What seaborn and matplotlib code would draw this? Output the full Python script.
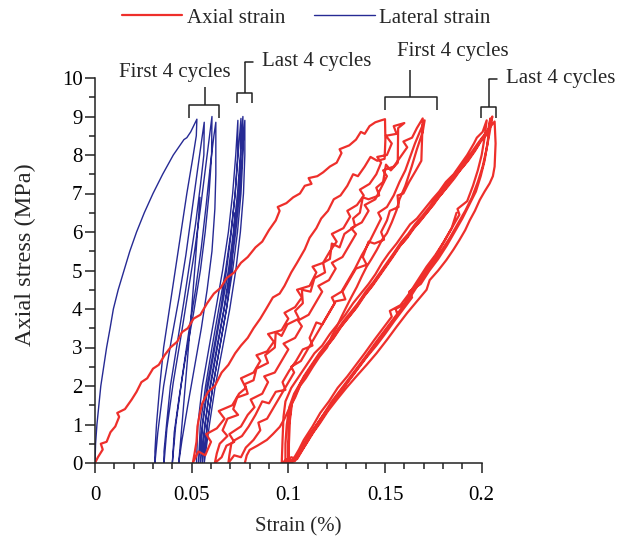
import numpy as np
import pandas as pd
import matplotlib
matplotlib.use("Agg")
import matplotlib.pyplot as plt
import seaborn as sns
from matplotlib.lines import Line2D
from matplotlib.ticker import FixedLocator

# ---------------------------------------------------------------- data
# Axial strain (%), stress (MPa)
AX_LOAD0 = [(0, 0), (0.0015, 0.15), (0.004, 0.35), (0.003, 0.5), (0.006, 0.55), (0.008, 0.8), (0.0105, 0.95),
            (0.0125, 1.2), (0.0115, 1.3), (0.0155, 1.4), (0.019, 1.65), (0.0215, 1.85), (0.024, 2.1), (0.027, 2.2),
            (0.030, 2.45), (0.033, 2.55), (0.036, 2.8), (0.039, 3.0), (0.0425, 3.15), (0.045, 3.4), (0.048, 3.5),
            (0.051, 3.75), (0.0545, 3.85), (0.058, 4.15), (0.0615, 4.4), (0.065, 4.55), (0.068, 4.8), (0.072, 4.95),
            (0.0755, 5.2), (0.079, 5.35), (0.083, 5.6), (0.0865, 5.75), (0.090, 6.05), (0.0935, 6.3), (0.0955, 6.55),
            (0.0945, 6.65), (0.099, 6.75), (0.1025, 6.9), (0.106, 7.0), (0.1085, 7.2), (0.112, 7.25), (0.1105, 7.4),
            (0.115, 7.45), (0.118, 7.55), (0.1215, 7.7), (0.125, 7.8), (0.1275, 8.05), (0.1265, 8.15), (0.1315, 8.25),
            (0.135, 8.4), (0.1375, 8.6), (0.1395, 8.55), (0.142, 8.75), (0.145, 8.85), (0.148, 8.9), (0.150, 8.93)]
AX_G1_U1 = [(0.150, 8.93), (0.1502, 8.4), (0.1498, 7.9), (0.146, 7.85), (0.1425, 7.95), (0.1395, 7.7), (0.136, 7.45),
            (0.1335, 7.5), (0.1305, 7.2), (0.127, 6.95), (0.1235, 6.85), (0.1205, 6.55), (0.117, 6.35), (0.1145, 6.1),
            (0.111, 5.85), (0.1085, 5.55), (0.1045, 5.2), (0.1015, 4.95), (0.098, 4.6), (0.0955, 4.4), (0.092, 4.3),
            (0.0885, 4.0), (0.0855, 3.75), (0.082, 3.5), (0.079, 3.25), (0.0755, 3.05), (0.0725, 2.85), (0.069, 2.55),
            (0.0655, 2.35), (0.062, 2.0), (0.0585, 1.85), (0.0555, 1.55), (0.0545, 1.35), (0.053, 0.95),
            (0.0525, 0.55), (0.0515, 0.25), (0.0506, 0)]
AX_G1_R1 = [(0.0506, 0), (0.0535, 0.3), (0.057, 0.2), (0.060, 0.55), (0.0575, 0.75), (0.063, 0.9), (0.067, 1.15),
            (0.064, 1.35), (0.071, 1.5), (0.0745, 1.8), (0.078, 1.95), (0.0755, 2.2), (0.082, 2.35), (0.0855, 2.65),
            (0.0835, 2.8), (0.089, 2.9), (0.0925, 3.15), (0.0895, 3.35), (0.0965, 3.45), (0.100, 3.75), (0.098, 3.9),
            (0.1035, 4.05), (0.107, 4.3), (0.1045, 4.5), (0.111, 4.6), (0.1145, 4.95), (0.1125, 5.1), (0.118, 5.2),
            (0.1215, 5.5), (0.125, 5.75), (0.1225, 5.95), (0.1285, 6.1), (0.132, 6.4), (0.1305, 6.55), (0.1355, 6.7),
            (0.139, 6.95), (0.137, 7.1), (0.142, 7.25), (0.1455, 7.5), (0.148, 7.8), (0.146, 7.95), (0.151, 8.0),
            (0.1535, 8.3), (0.1505, 8.5), (0.156, 8.55), (0.1545, 8.75), (0.160, 8.83)]
AX_G1_U2 = [(0.160, 8.83), (0.1568, 8.7), (0.1566, 7.8), (0.153, 7.6), (0.1505, 7.75), (0.149, 7.3), (0.1455, 7.15),
            (0.147, 6.95), (0.1415, 6.85), (0.1385, 6.9), (0.137, 6.5), (0.1335, 6.35), (0.1345, 6.15), (0.129, 5.95),
            (0.1265, 5.6), (0.1225, 5.7), (0.1215, 5.3), (0.118, 5.2), (0.119, 4.95), (0.1135, 4.8), (0.1115, 4.45),
            (0.107, 4.5), (0.1075, 4.15), (0.1035, 3.95), (0.1055, 3.75), (0.0995, 3.6), (0.0965, 3.3), (0.0935, 3.4),
            (0.093, 3.0), (0.088, 2.8), (0.0895, 2.6), (0.0835, 2.45), (0.082, 2.15), (0.0775, 2.05), (0.079, 1.8),
            (0.0735, 1.7), (0.0715, 1.4), (0.074, 1.25), (0.0685, 1.15), (0.066, 0.85), (0.0685, 0.7), (0.0645, 0.5),
            (0.063, 0.25), (0.062, 0)]
AX_G1_R2 = [(0.062, 0), (0.0655, 0.15), (0.068, 0.45), (0.072, 0.55), (0.0695, 0.75), (0.0755, 0.95), (0.079, 1.25),
            (0.0825, 1.45), (0.0805, 1.65), (0.0865, 1.8), (0.0895, 2.1), (0.0875, 2.25), (0.093, 2.35), (0.0965, 2.65),
            (0.100, 2.95), (0.0975, 3.1), (0.1035, 3.25), (0.107, 3.55), (0.105, 3.7), (0.1105, 3.85), (0.114, 4.15),
            (0.1175, 4.45), (0.1155, 4.6), (0.121, 4.75), (0.1245, 5.05), (0.1225, 5.2), (0.128, 5.35), (0.1315, 5.65),
            (0.135, 5.95), (0.1325, 6.1), (0.138, 6.25), (0.1415, 6.55), (0.1395, 6.7), (0.145, 6.85), (0.148, 7.15),
            (0.151, 7.45), (0.149, 7.6), (0.1545, 7.7), (0.158, 7.95), (0.1615, 8.2), (0.1595, 8.35), (0.164, 8.45),
            (0.1665, 8.7), (0.1695, 8.95)]
AX_G1_U3 = [(0.1695, 8.95), (0.1688, 7.85), (0.166, 7.6), (0.1625, 7.3), (0.1595, 7.0), (0.1565, 6.95), (0.157, 6.65),
            (0.1525, 6.55), (0.151, 6.3), (0.148, 6.0), (0.1495, 5.8), (0.1445, 5.7), (0.1415, 5.75), (0.1385, 5.35),
            (0.1405, 5.15), (0.135, 5.05), (0.1315, 4.75), (0.128, 4.45), (0.1295, 4.25), (0.1245, 4.2), (0.121, 3.9),
            (0.1175, 3.6), (0.1145, 3.65), (0.111, 3.25), (0.1125, 3.05), (0.1075, 2.95), (0.104, 2.65),
            (0.1005, 2.4), (0.097, 2.1), (0.0985, 1.9), (0.0935, 1.85), (0.09, 1.55), (0.0865, 1.6), (0.083, 1.25),
            (0.0795, 0.95), (0.076, 0.7), (0.0725, 0.6), (0.0705, 0.5), (0.0695, 0.2), (0.069, 0)]
AX_G1_R3 = [(0.069, 0), (0.072, 0.2), (0.0755, 0.15), (0.078, 0.4), (0.082, 0.6), (0.0855, 0.85), (0.0845, 1.05),
            (0.089, 1.15), (0.0925, 1.45), (0.096, 1.75), (0.0995, 2.05), (0.103, 2.35), (0.1015, 2.5), (0.1065, 2.65),
            (0.110, 2.95), (0.1135, 3.25), (0.117, 3.55), (0.1205, 3.85), (0.124, 4.15), (0.1225, 4.3), (0.1275, 4.45),
            (0.131, 4.75), (0.1345, 5.05), (0.138, 5.4), (0.1415, 5.7), (0.1445, 6.0), (0.148, 6.35), (0.1465, 6.5),
            (0.151, 6.65), (0.1545, 6.95), (0.1575, 7.3), (0.1605, 7.6), (0.163, 7.95), (0.1655, 8.3), (0.168, 8.6),
            (0.1705, 8.9)]
AX_G1_U4 = [(0.1705, 8.9), (0.1695, 8.6), (0.1665, 8.15), (0.1638, 7.7), (0.1605, 7.2), (0.1575, 6.85), (0.156, 6.57),
            (0.1535, 6.25), (0.151, 5.97), (0.1485, 5.8), (0.1457, 5.53), (0.143, 5.3), (0.1405, 5.1), (0.138, 4.85),
            (0.1354, 4.57), (0.1325, 4.3), (0.130, 4.05), (0.1275, 3.8), (0.125, 3.53), (0.1225, 3.3), (0.12, 3.0),
            (0.116, 2.75), (0.1127, 2.5), (0.109, 2.2), (0.106, 2.0), (0.1035, 1.7), (0.1008, 1.45), (0.098, 1.15),
            (0.0956, 0.94), (0.092, 0.75), (0.0889, 0.6), (0.084, 0.45), (0.080, 0.34), (0.0785, 0.2), (0.0775, 0)]

AX_G2_R0 = [(0.0999, 0), (0.102, 0.05), (0.1055, 0.35), (0.108, 0.6), (0.1125, 0.95), (0.1165, 1.3), (0.121, 1.6),
            (0.1255, 1.95), (0.1305, 2.25), (0.135, 2.55), (0.1395, 2.85), (0.1445, 3.2), (0.149, 3.5), (0.1535, 3.8),
            (0.1525, 3.95), (0.158, 4.1), (0.1625, 4.4), (0.167, 4.75), (0.1715, 5.1), (0.176, 5.4), (0.1805, 5.75),
            (0.1845, 6.1), (0.1885, 6.45), (0.1875, 6.6), (0.1925, 6.8), (0.1955, 7.2), (0.198, 7.6), (0.200, 8.0),
            (0.2015, 8.45), (0.2026, 8.9)]
AX_G2_U1 = [(0.2026, 8.9), (0.2005, 8.6), (0.1975, 8.45), (0.196, 8.3), (0.1925, 8.0), (0.189, 7.75), (0.1855, 7.5),
            (0.1815, 7.3), (0.178, 7.05), (0.1745, 6.85), (0.1705, 6.6), (0.1665, 6.35), (0.163, 6.2), (0.1595, 5.95),
            (0.156, 5.7), (0.152, 5.45), (0.1485, 5.2), (0.145, 4.9), (0.1415, 4.65), (0.1375, 4.4), (0.1335, 4.15),
            (0.1295, 3.85), (0.1255, 3.6), (0.1215, 3.35), (0.1175, 3.05), (0.1135, 2.85), (0.1095, 2.55),
            (0.1055, 2.25), (0.1015, 1.95), (0.0985, 1.6), (0.0975, 1.2), (0.097, 0.6), (0.0966, 0)]
AX_G2_R1 = [(0.0966, 0), (0.0995, 0.1), (0.1025, 0.05), (0.106, 0.3), (0.1095, 0.6), (0.1135, 0.9), (0.1175, 1.2),
            (0.1225, 1.55), (0.127, 1.85), (0.1315, 2.15), (0.136, 2.45), (0.1405, 2.75), (0.1455, 3.05), (0.150, 3.35),
            (0.155, 3.7), (0.1595, 4.0), (0.164, 4.3), (0.1625, 4.45), (0.1685, 4.65), (0.173, 5.0), (0.1775, 5.3),
            (0.182, 5.65), (0.186, 6.0), (0.19, 6.35), (0.1935, 6.7), (0.197, 7.05), (0.1995, 7.45), (0.2015, 7.85),
            (0.203, 8.3), (0.2045, 8.95)]
AX_G2_U2 = [(0.2045, 8.95), (0.2030, 8.55), (0.1995, 8.35), (0.1965, 8.1), (0.193, 7.85), (0.1895, 7.65), (0.186, 7.4),
            (0.182, 7.15), (0.1785, 6.95), (0.175, 6.7), (0.1715, 6.5), (0.1675, 6.25), (0.164, 6.05), (0.1605, 5.8),
            (0.157, 5.6), (0.153, 5.3), (0.1495, 5.05), (0.146, 4.8), (0.1425, 4.55), (0.1385, 4.3), (0.1345, 4.0),
            (0.1305, 3.75), (0.1265, 3.5), (0.1225, 3.2), (0.1185, 2.95), (0.1145, 2.7), (0.1105, 2.4), (0.1065, 2.1),
            (0.103, 1.8), (0.1005, 1.45), (0.0992, 1.0), (0.0985, 0.5), (0.0985, 0)]
AX_G2_R2 = [(0.0985, 0), (0.1015, 0.15), (0.1045, 0.1), (0.108, 0.4), (0.1115, 0.7), (0.1155, 1.0), (0.12, 1.35),
            (0.1245, 1.7), (0.129, 2.0), (0.1335, 2.3), (0.138, 2.6), (0.1425, 2.9), (0.1475, 3.25), (0.152, 3.55),
            (0.1565, 3.85), (0.1555, 4.0), (0.161, 4.15), (0.1655, 4.5), (0.170, 4.85), (0.1745, 5.15), (0.179, 5.5),
            (0.1835, 5.85), (0.1875, 6.2), (0.1915, 6.55), (0.195, 6.9), (0.198, 7.3), (0.2005, 7.7), (0.2025, 8.15),
            (0.204, 8.55), (0.2055, 9.0)]
AX_G2_U3 = [(0.2055, 9.0), (0.2035, 8.6), (0.2005, 8.45), (0.1975, 8.2), (0.194, 7.95), (0.1905, 7.7), (0.187, 7.5),
            (0.183, 7.25), (0.1795, 7.0), (0.176, 6.8), (0.1725, 6.55), (0.1685, 6.3), (0.165, 6.1), (0.1615, 5.85),
            (0.158, 5.65), (0.154, 5.35), (0.1505, 5.1), (0.147, 4.85), (0.1435, 4.6), (0.1395, 4.35), (0.1355, 4.05),
            (0.1315, 3.8), (0.1275, 3.55), (0.1235, 3.25), (0.1195, 3.0), (0.1155, 2.75), (0.1115, 2.45),
            (0.1075, 2.15), (0.1045, 1.85), (0.1015, 1.5), (0.1003, 1.0), (0.0999, 0.5), (0.0999, 0)]
AX_G2_R3 = [(0.0999, 0), (0.1034, 0.05), (0.106, 0.25), (0.1094, 0.51), (0.113, 0.8), (0.1163, 1.03), (0.1205, 1.35),
            (0.125, 1.64), (0.13, 1.95), (0.135, 2.24), (0.1405, 2.55), (0.1456, 2.85), (0.151, 3.2), (0.156, 3.54),
            (0.1615, 3.9), (0.167, 4.23), (0.1715, 4.5), (0.1731, 4.75), (0.1775, 5.0), (0.1817, 5.27), (0.1855, 5.55),
            (0.1886, 5.8), (0.1915, 6.05), (0.1938, 6.3), (0.1965, 6.55), (0.199, 6.83), (0.2015, 7.05),
            (0.2041, 7.26), (0.2058, 7.45), (0.2067, 7.7), (0.2072, 8.3), (0.2067, 8.87)]
AX_G2_U4 = [(0.2067, 8.87), (0.2040, 8.7), (0.201, 8.5), (0.198, 8.3), (0.1945, 8.05), (0.191, 7.8), (0.1875, 7.6),
            (0.1835, 7.35), (0.18, 7.1), (0.1765, 6.9), (0.173, 6.65), (0.169, 6.4), (0.1655, 6.2), (0.162, 5.95),
            (0.1585, 5.75), (0.1545, 5.45), (0.151, 5.2), (0.1475, 4.95), (0.144, 4.7), (0.14, 4.45), (0.136, 4.15),
            (0.132, 3.9), (0.128, 3.65), (0.124, 3.35), (0.12, 3.1), (0.116, 2.85), (0.112, 2.55), (0.108, 2.25),
            (0.105, 1.95), (0.102, 1.6), (0.1008, 1.1), (0.1003, 0.5), (0.1003, 0)]
AX_G2_R4 = [(0.1003, 0), (0.103, 0.1), (0.1065, 0.35), (0.110, 0.65), (0.114, 0.95), (0.118, 1.25), (0.1225, 1.6),
            (0.127, 1.9), (0.1315, 2.2), (0.136, 2.5), (0.1405, 2.8), (0.1455, 3.15), (0.150, 3.45), (0.1545, 3.75),
            (0.159, 4.05), (0.1635, 4.4), (0.168, 4.75), (0.172, 5.05), (0.1765, 5.4), (0.1805, 5.75), (0.1845, 6.1),
            (0.187, 6.5)]

# Lateral strain (%), stress (MPa)
LAT_LOAD0 = [(0, 0), (0.0003, 0.5), (0.001, 1.0), (0.002, 1.5), (0.003, 2.0), (0.0045, 2.5), (0.006, 3.0),
             (0.0078, 3.5), (0.0095, 4.0), (0.012, 4.5), (0.015, 5.0), (0.018, 5.5), (0.0215, 6.0), (0.0255, 6.5),
             (0.030, 7.0), (0.035, 7.5), (0.0405, 8.0), (0.046, 8.4), (0.0475, 8.45), (0.0495, 8.6), (0.0527, 8.93)]
LAT_G1_U1 = [(0.0527, 8.93), (0.0524, 8.5), (0.0505, 7.9), (0.0475, 7.0), (0.0445, 6.0), (0.0415, 5.0),
             (0.0385, 4.0), (0.0355, 3.0), (0.0335, 2.0), (0.0318, 1.0), (0.031, 0.3), (0.031, 0)]
LAT_G1_R1 = [(0.031, 0), (0.0325, 0.8), (0.0355, 2.0), (0.0395, 3.2), (0.0435, 4.3), (0.047, 5.4), (0.050, 6.5),
             (0.053, 7.6), (0.0555, 8.5), (0.0565, 8.85)]
LAT_G1_U2 = [(0.0565, 8.85), (0.0563, 8.0), (0.0545, 7.2), (0.052, 6.2), (0.049, 5.2), (0.046, 4.2), (0.0425, 3.1),
             (0.039, 2.0), (0.037, 1.0), (0.0357, 0.3), (0.0357, 0)]
LAT_G1_R2 = [(0.0357, 0), (0.0372, 0.9), (0.0405, 2.1), (0.0445, 3.3), (0.048, 4.4), (0.0515, 5.5), (0.0545, 6.6),
             (0.057, 7.6), (0.0595, 8.6), (0.0605, 9.0)]
LAT_G1_U3 = [(0.0605, 9.0), (0.0603, 8.0), (0.059, 7.0), (0.057, 6.0), (0.0545, 5.0), (0.051, 3.9), (0.047, 2.8),
             (0.0435, 1.7), (0.041, 0.8), (0.040, 0)]
LAT_G1_R3 = [(0.040, 0), (0.0418, 1.0), (0.045, 2.2), (0.0485, 3.4), (0.052, 4.5), (0.055, 5.6), (0.0575, 6.7),
             (0.0598, 7.8), (0.0615, 8.5), (0.0625, 8.85)]
LAT_G1_U4 = [(0.0625, 8.85), (0.0625, 7.5), (0.062, 6.6), (0.0605, 5.5), (0.058, 4.5), (0.055, 3.5), (0.0515, 2.5),
             (0.048, 1.5), (0.045, 0.6), (0.0433, 0)]
LAT_G1_R4 = [(0.0433, 0), (0.045, 1.0), (0.0475, 2.5), (0.050, 4.0), (0.052, 5.3), (0.0543, 6.9)]

LAT_G2_R0 = [(0.0525, 0), (0.0532, 1.0), (0.0555, 2.0), (0.059, 3.0), (0.0625, 4.0), (0.066, 5.0), (0.069, 6.0),
             (0.0712, 7.0), (0.0728, 8.0), (0.0739, 8.9)]
LAT_G2_U1 = [(0.0739, 8.9), (0.0738, 8.0), (0.0725, 7.0), (0.0705, 6.0), (0.068, 5.0), (0.065, 4.0), (0.0615, 3.0),
             (0.058, 2.0), (0.0555, 1.0), (0.0535, 0)]
LAT_G2_R1 = [(0.0535, 0), (0.0545, 1.0), (0.0572, 2.0), (0.0605, 3.0), (0.064, 4.0), (0.0675, 5.0), (0.0703, 6.0),
             (0.0725, 7.0), (0.074, 8.0), (0.0755, 8.95)]
LAT_G2_U2 = [(0.0755, 8.95), (0.0754, 8.0), (0.0742, 7.0), (0.0722, 6.0), (0.0697, 5.0), (0.0667, 4.0), (0.063, 3.0),
             (0.0595, 2.0), (0.057, 1.0), (0.0545, 0)]
LAT_G2_R2 = [(0.0545, 0), (0.0557, 1.0), (0.0585, 2.0), (0.062, 3.0), (0.0655, 4.0), (0.069, 5.0), (0.0716, 6.0),
             (0.0737, 7.0), (0.0752, 8.0), (0.0765, 9.0)]
LAT_G2_U3 = [(0.0765, 9.0), (0.0765, 8.0), (0.0755, 7.0), (0.0737, 6.0), (0.0712, 5.0), (0.068, 4.0), (0.0645, 3.0),
             (0.061, 2.0), (0.0582, 1.0), (0.0555, 0)]
LAT_G2_R3 = [(0.0555, 0), (0.0568, 1.0), (0.0598, 2.0), (0.0633, 3.0), (0.0668, 4.0), (0.0702, 5.0), (0.0728, 6.0),
             (0.0748, 7.0), (0.0762, 8.0), (0.0775, 8.9)]
LAT_G2_U4 = [(0.0775, 8.9), (0.0775, 8.0), (0.0768, 7.0), (0.0752, 6.0), (0.0728, 5.0), (0.0697, 4.0), (0.066, 3.0),
             (0.0622, 2.0), (0.0592, 1.0), (0.0565, 0)]
LAT_G2_R4 = [(0.0565, 0), (0.058, 1.0), (0.061, 2.0), (0.0645, 3.0), (0.068, 4.0), (0.0705, 5.0), (0.0724, 6.5)]

SERIES = ["Axial strain", "Lateral strain"]
X_TICKS = [0, 0.05, 0.1, 0.15, 0.2]
X_TICK_LABELS = ["0", "0.05", "0.1", "0.15", "0.2"]
Y_TICKS = list(range(0, 11))

PATHS = [
    (SERIES[0], "ax1", [AX_LOAD0, AX_G1_U1, AX_G1_R1, AX_G1_U2, AX_G1_R2, AX_G1_U3, AX_G1_R3, AX_G1_U4]),
    (SERIES[0], "ax2", [AX_G2_R0, AX_G2_U1, AX_G2_R1, AX_G2_U2, AX_G2_R2, AX_G2_U3, AX_G2_R3, AX_G2_U4, AX_G2_R4]),
    (SERIES[1], "lat1", [LAT_LOAD0, LAT_G1_U1, LAT_G1_R1, LAT_G1_U2, LAT_G1_R2, LAT_G1_U3, LAT_G1_R3, LAT_G1_U4,
                         LAT_G1_R4]),
    (SERIES[1], "lat2", [LAT_G2_R0, LAT_G2_U1, LAT_G2_R1, LAT_G2_U2, LAT_G2_R2, LAT_G2_U3, LAT_G2_R3, LAT_G2_U4,
                         LAT_G2_R4]),
]

rows = []
for series, pid, segs in PATHS:
    for seg in segs:
        for x, y in seg:
            rows.append({"series": series, "path": pid, "strain": x, "stress": y})
df = pd.DataFrame(rows)

# ---------------------------------------------------------------- style
RED = "#ee2f2b"
BLUE = "#262a94"
INK = "#222222"

sns.set_theme(style="white")
plt.rcParams["font.family"] = ["Liberation Serif", "DejaVu Serif"]
plt.rcParams["font.size"] = 15

fig = plt.figure(figsize=(6.31, 5.43), dpi=100)
ax = fig.add_axes([95 / 631, 80 / 543, 406 / 631, 385 / 543])

sns.lineplot(data=df[df.series == SERIES[1]], x="strain", y="stress", units="path", estimator=None, sort=False,
             color=BLUE, linewidth=1.0, ax=ax, legend=False)
sns.lineplot(data=df[df.series == SERIES[0]], x="strain", y="stress", units="path", estimator=None, sort=False,
             color=RED, linewidth=1.6, ax=ax, legend=False)

ax.set_xlim(0, 0.21)
ax.set_ylim(0, 10)
for s in ["top", "right"]:
    ax.spines[s].set_visible(False)
for s in ["left", "bottom"]:
    ax.spines[s].set_color(INK)
    ax.spines[s].set_linewidth(1.1)
ax.spines["bottom"].set_bounds(0, 0.2)
ax.spines["left"].set_bounds(0, 10)

ax.xaxis.set_major_locator(FixedLocator(X_TICKS))
ax.set_xticklabels(X_TICK_LABELS)
ax.xaxis.set_minor_locator(FixedLocator(np.round(np.arange(0, 0.2001, 0.01), 3)))
ax.yaxis.set_major_locator(FixedLocator(Y_TICKS))
ax.yaxis.set_minor_locator(FixedLocator(np.arange(0, 10.01, 0.5)))
ax.tick_params(which="major", direction="out", length=7.5, width=1.1, color=INK, labelsize=15,
               labelcolor="black", bottom=True, left=True)
ax.tick_params(which="minor", direction="out", length=4.2, width=1.1, color=INK, bottom=True, left=True)
ax.tick_params(axis="x", which="major", pad=9)
ax.tick_params(axis="y", which="major", pad=1.5)

ax.set_xlabel("Strain (%)", fontsize=15, labelpad=9)
ax.set_ylabel("Axial stress (MPa)", fontsize=17.5)
ax.yaxis.set_label_coords(-0.145, 0.54)

# ---------------------------------------------------------------- annotations
def bracket(x0, x1, y_bar, y_tip, xc, y_top):
    kw = dict(color=INK, lw=1.1, clip_on=False, solid_capstyle="butt")
    ax.plot([x0, x0, x1, x1], [y_tip, y_bar, y_bar, y_tip], **kw)
    ax.plot([xc, xc], [y_bar, y_top], **kw)

bracket(0.0486, 0.0641, 9.3, 8.96, 0.0570, 9.77)
ax.text(0.0413, 10.15, "First 4 cycles", ha="center", va="center", fontsize=15)

bracket(0.0734, 0.0811, 9.61, 9.35, 0.0775, 10.42)
ax.plot([0.0775, 0.0818], [10.42, 10.42], color=INK, lw=1.1, clip_on=False)
ax.text(0.0865, 10.42, "Last 4 cycles", ha="left", va="center", fontsize=15)

bracket(0.150, 0.1767, 9.5, 9.17, 0.1628, 10.2)
ax.text(0.185, 10.68, "First 4 cycles", ha="center", va="center", fontsize=15)

bracket(0.1995, 0.2072, 9.25, 8.96, 0.2036, 9.97)
ax.plot([0.2036, 0.2078], [9.97, 9.97], color=INK, lw=1.1, clip_on=False)
ax.text(0.2124, 10.0, "Last 4 cycles", ha="left", va="center", fontsize=15)

handles = [Line2D([], [], color=RED, lw=1.6), Line2D([], [], color=BLUE, lw=1.0)]
fig.legend(handles, SERIES, loc="center", bbox_to_anchor=(306 / 631, 1 - 18 / 543), ncol=2, frameon=False,
           handlelength=2.9, handletextpad=0.2, columnspacing=1.4, fontsize=15)

fig.savefig("out.png", dpi=100)
